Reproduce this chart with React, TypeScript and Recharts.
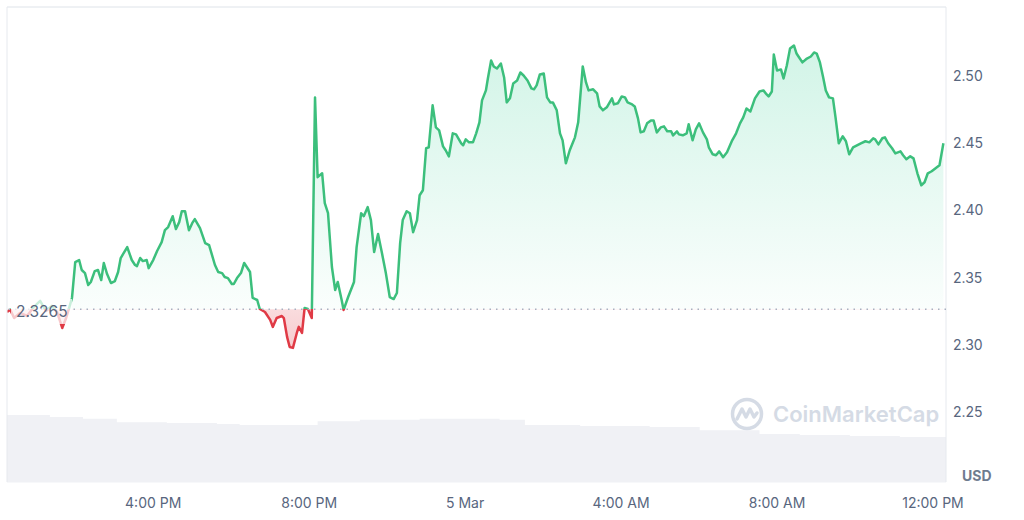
import React from "react";
import {
  ComposedChart,
  Area,
  XAxis,
  YAxis,
  CartesianGrid,
  ReferenceLine,
} from "recharts";

// minutes after 12:00 PM, 4 Mar
const minutes = [
  15, 20, 26, 35, 46, 55, 66, 75, 84, 92, 100, 106, 112, 115, 120, 126, 130, 135, 140, 144,
  150, 155, 160, 164, 169, 175, 181, 186, 190, 200, 207, 212, 215, 220, 224, 230, 233, 240,
  246, 253, 258, 263, 270, 275, 280, 284, 289, 295, 300, 304, 312, 320, 326, 335, 340, 346,
  350, 355, 361, 364, 369, 375, 380, 384, 389, 393, 400, 404, 412, 420, 424, 430, 438, 441,
  446, 450, 455, 461, 464, 469, 473, 478, 484, 489, 493, 500, 504, 509, 515, 520, 524, 530,
  533, 540, 549, 553, 560, 564, 570, 575, 580, 586, 592, 598, 604, 610, 615, 620, 624, 630,
  635, 640, 646, 650, 655, 660, 664, 670, 675, 680, 686, 690, 695, 701, 706, 714, 717, 721,
  726, 732, 737, 742, 746, 752, 755, 760, 764, 769, 775, 780, 784, 789, 794, 800, 805, 810,
  816, 822, 826, 830, 835, 841, 846, 851, 855, 861, 866, 870, 875, 881, 889, 894, 901, 906,
  910, 917, 923, 927, 932, 938, 946, 949, 955, 961, 966, 970, 977, 981, 986, 990, 995, 1000,
  1006, 1010, 1015, 1021, 1026, 1031, 1037, 1040, 1046, 1049, 1055, 1061, 1064, 1070, 1075,
  1080, 1086, 1092, 1095, 1101, 1106, 1111, 1117, 1123, 1131, 1137, 1143, 1148, 1153, 1159,
  1166, 1173, 1179, 1184, 1187, 1192, 1195, 1200, 1206, 1210, 1215, 1220, 1226, 1230, 1233,
  1239, 1246, 1252, 1257, 1261, 1266, 1271, 1275, 1280, 1286, 1290, 1295, 1301, 1306, 1311,
  1317, 1323, 1329, 1336, 1342, 1348, 1351, 1356, 1362, 1366, 1371, 1377, 1382, 1390, 1394,
  1399, 1405, 1410, 1416, 1422, 1427, 1432, 1438, 1444, 1450, 1456,
];

const prices = [
  2.3245, 2.3262, 2.32, 2.3238, 2.3215, 2.3275, 2.3327, 2.3252, 2.329, 2.3245, 2.3126, 2.32,
  2.3297, 2.3349, 2.3616, 2.3631, 2.3557, 2.3534, 2.3445, 2.3468, 2.3549, 2.3557, 2.3482,
  2.3609, 2.3527, 2.346, 2.3475, 2.3542, 2.3646, 2.3727, 2.3631, 2.3594, 2.3586, 2.3646,
  2.3623, 2.3631, 2.3571, 2.3631, 2.3698, 2.3764, 2.3853, 2.3876, 2.3957, 2.3861, 2.3913,
  2.3994, 2.3994, 2.3853, 2.3905, 2.3935, 2.3868, 2.3757, 2.3742, 2.3594, 2.3542, 2.3534,
  2.3505, 2.3497, 2.3453, 2.3453, 2.3497, 2.3534, 2.3609, 2.3579, 2.3542, 2.3349, 2.3334,
  2.3267, 2.3245, 2.3186, 2.3134, 2.32, 2.3215, 2.32, 2.306, 2.2985, 2.2978, 2.3089, 2.3134,
  2.3089, 2.3275, 2.3267, 2.32, 2.484, 2.4247, 2.4276, 2.4054, 2.3979, 2.3579, 2.3408,
  2.3468, 2.3334, 2.326, 2.3356, 2.3468, 2.3727, 2.3979, 2.3957, 2.4024, 2.3928, 2.369,
  2.3824, 2.3683, 2.3534, 2.3356, 2.3341, 2.3386, 2.3757, 2.3928, 2.3994, 2.3979, 2.3838,
  2.3928, 2.4113, 2.415, 2.4462, 2.4469, 2.4781, 2.4617, 2.4595, 2.4476, 2.4447, 2.4402,
  2.4573, 2.4565, 2.4499, 2.4484, 2.4528, 2.4506, 2.4506, 2.4573, 2.4655, 2.4818, 2.4892,
  2.4981, 2.5114, 2.507, 2.5055, 2.5092, 2.4988, 2.4803, 2.4833, 2.4944, 2.4966, 2.5025,
  2.5003, 2.4966, 2.4907, 2.49, 2.4929, 2.5011, 2.5018, 2.484, 2.4803, 2.4803, 2.4744,
  2.4573, 2.4521, 2.435, 2.4447, 2.4543, 2.4655, 2.507, 2.4951, 2.4892, 2.49, 2.487, 2.4773,
  2.4744, 2.4766, 2.4833, 2.4788, 2.4796, 2.4847, 2.484, 2.4803, 2.4788, 2.4773, 2.4684,
  2.458, 2.4588, 2.4647, 2.4669, 2.4669, 2.458, 2.4617, 2.4625, 2.4588, 2.4588, 2.4558,
  2.4588, 2.4565, 2.4558, 2.4573, 2.464, 2.4521, 2.4603, 2.4647, 2.458, 2.4528, 2.4469,
  2.4417, 2.441, 2.4439, 2.4395, 2.4432, 2.4521, 2.4573, 2.4647, 2.4692, 2.4758, 2.4736,
  2.4833, 2.4884, 2.4892, 2.4862, 2.4847, 2.4884, 2.5159, 2.504, 2.5048, 2.4981, 2.5077,
  2.5203, 2.5226, 2.5166, 2.5144, 2.51, 2.5129, 2.5144, 2.5174, 2.5166, 2.51, 2.4988,
  2.4892, 2.484, 2.4833, 2.4692, 2.4499, 2.4551, 2.4514, 2.4417, 2.4469, 2.4484, 2.4499,
  2.4514, 2.4506, 2.4536, 2.4528, 2.4491, 2.4536, 2.4543, 2.4499, 2.4462, 2.4424, 2.4439,
  2.441, 2.438, 2.4402, 2.4387, 2.4276, 2.4187, 2.4209, 2.4276, 2.4291, 2.4313, 2.4336,
  2.4499,
];

// 24h volume, millions USD
const volMinutes = [
  15, 81, 132, 184, 261, 338, 373, 486, 493, 558, 650, 727, 773, 812, 897, 1004, 1081, 1173,
  1235, 1312, 1389, 1460,
];
const volumes = [
  141, 137, 133, 126, 124, 122, 120, 120, 128, 131, 133, 133, 131, 120, 118, 116, 109, 101,
  99, 97, 95, 95,
];

const openPrice = 2.3265;
const priceTicks = [2.25, 2.3, 2.35, 2.4, 2.45, 2.5];
const timeTicks = [240, 480, 720, 960, 1200, 1440];
const timeLabels = ["4:00 PM", "8:00 PM", "5 Mar", "4:00 AM", "8:00 AM", "12:00 PM"];

const priceData = minutes.map((t, i) => ({ t, p: prices[i] }));
const volData = volMinutes.map((t, i) => ({ t, v: volumes[i] }));

const yMin = 2.1981;
const yMax = 2.5512;
const plotTop = 7;
const plotBottom = 482;
const split = (yMax - openPrice) / (yMax - yMin);

const GREEN = "#3cbf7c";
const FILL_GREEN = "#16c784";
const RED = "#e03a45";
const GRID = "#eff2f5";
const TEXT = "#58667e";
const FONT = "Inter, 'Noto Sans', sans-serif";

export default function App() {
  return (
    <div
      style={{
        position: "absolute",
        left: 0,
        top: 0,
        width: 1024,
        height: 520,
        background: "#fff",
        fontFamily: FONT,
      }}
    >
      <ComposedChart
        width={1024}
        height={520}
        margin={{ top: 7, right: 8, bottom: 8, left: 7 }}
      >
        <defs>
          <linearGradient id="priceStroke" gradientUnits="userSpaceOnUse" x1="0" y1={plotTop} x2="0" y2={plotBottom}>
            <stop offset={split} stopColor={GREEN} />
            <stop offset={split} stopColor={RED} />
          </linearGradient>
          <linearGradient id="priceFill" gradientUnits="userSpaceOnUse" x1="0" y1={plotTop} x2="0" y2={plotBottom}>
            <stop offset={0} stopColor={FILL_GREEN} stopOpacity={0.22} />
            <stop offset={split} stopColor={FILL_GREEN} stopOpacity={0.02} />
            <stop offset={split} stopColor={RED} stopOpacity={0.18} />
            <stop offset={0.76} stopColor={RED} stopOpacity={0.3} />
          </linearGradient>
        </defs>
        <CartesianGrid vertical={false} stroke={GRID} />
        <XAxis
          dataKey="t"
          type="number"
          domain={[15, 1460]}
          ticks={timeTicks}
          tickFormatter={(v) => timeLabels[timeTicks.indexOf(v)]}
          allowDataOverflow
          axisLine={false}
          tickLine={false}
          tickSize={0}
          tickMargin={16}
          height={30}
          tick={{ fill: TEXT, fontSize: 14, fontFamily: FONT }}
        />
        <YAxis
          yAxisId="price"
          orientation="right"
          type="number"
          domain={[yMin, yMax]}
          ticks={priceTicks}
          allowDataOverflow
          tickFormatter={(v) => v.toFixed(2)}
          axisLine={false}
          tickLine={false}
          tickSize={0}
          tickMargin={7}
          width={70}
          tick={{ fill: TEXT, fontSize: 14, fontFamily: FONT, textAnchor: "start" }}
        />
        <YAxis yAxisId="vol" hide domain={[0, 1000]} />
        <ReferenceLine yAxisId="price" y={yMax} stroke="#e6e9ee" />
        <ReferenceLine yAxisId="price" x={15} stroke="#e6e9ee" />
        <ReferenceLine yAxisId="price" x={1460} stroke="#e6e9ee" />
        <Area
          yAxisId="vol"
          data={volData}
          dataKey="v"
          type="stepAfter"
          stroke="none"
          fill="#f0f1f5"
          fillOpacity={1}
          isAnimationActive={false}
          dot={false}
          activeDot={false}
        />
        <ReferenceLine
          yAxisId="price"
          y={openPrice}
          stroke="#a7b0bf"
          strokeWidth={1.5}
          strokeDasharray="1.5 5"
        />
        <Area
          yAxisId="price"
          data={priceData}
          dataKey="p"
          type="linear"
          baseValue={openPrice}
          stroke="url(#priceStroke)"
          strokeWidth={2.5}
          strokeLinejoin="round"
          fill="url(#priceFill)"
          fillOpacity={1}
          isAnimationActive={false}
          dot={false}
          activeDot={false}
        />
      </ComposedChart>

      {/* open price label */}
      <div
        style={{
          position: "absolute",
          left: 11,
          top: 299,
          width: 61,
          height: 25,
          background: "rgba(255,255,255,0.72)",
          color: TEXT,
          fontSize: 15.5,
          lineHeight: "25px",
          paddingLeft: 5,
          boxSizing: "border-box",
        }}
      >
        2.3265
      </div>

      {/* watermark */}
      <div
        style={{
          position: "absolute",
          left: 730,
          top: 397,
          display: "flex",
          alignItems: "center",
          gap: 9,
          color: "#d5dbe5",
          fontSize: 22,
          fontWeight: 600,
        }}
      >
        <svg width="34" height="34" viewBox="0 0 34 34">
          <circle cx="17" cy="17" r="14.5" fill="none" stroke="#d5dbe5" strokeWidth="3.5" />
          <path
            d="M7 22 L12 12 L16 20 L20 12 L24 20 L27 16"
            fill="none"
            stroke="#d5dbe5"
            strokeWidth="3.5"
            strokeLinejoin="round"
            strokeLinecap="round"
          />
        </svg>
        <span>CoinMarketCap</span>
      </div>

      <div
        style={{
          position: "absolute",
          left: 962,
          top: 467,
          color: "#6f7b8f",
          fontSize: 14,
          fontWeight: 700,
        }}
      >
        USD
      </div>
    </div>
  );
}
